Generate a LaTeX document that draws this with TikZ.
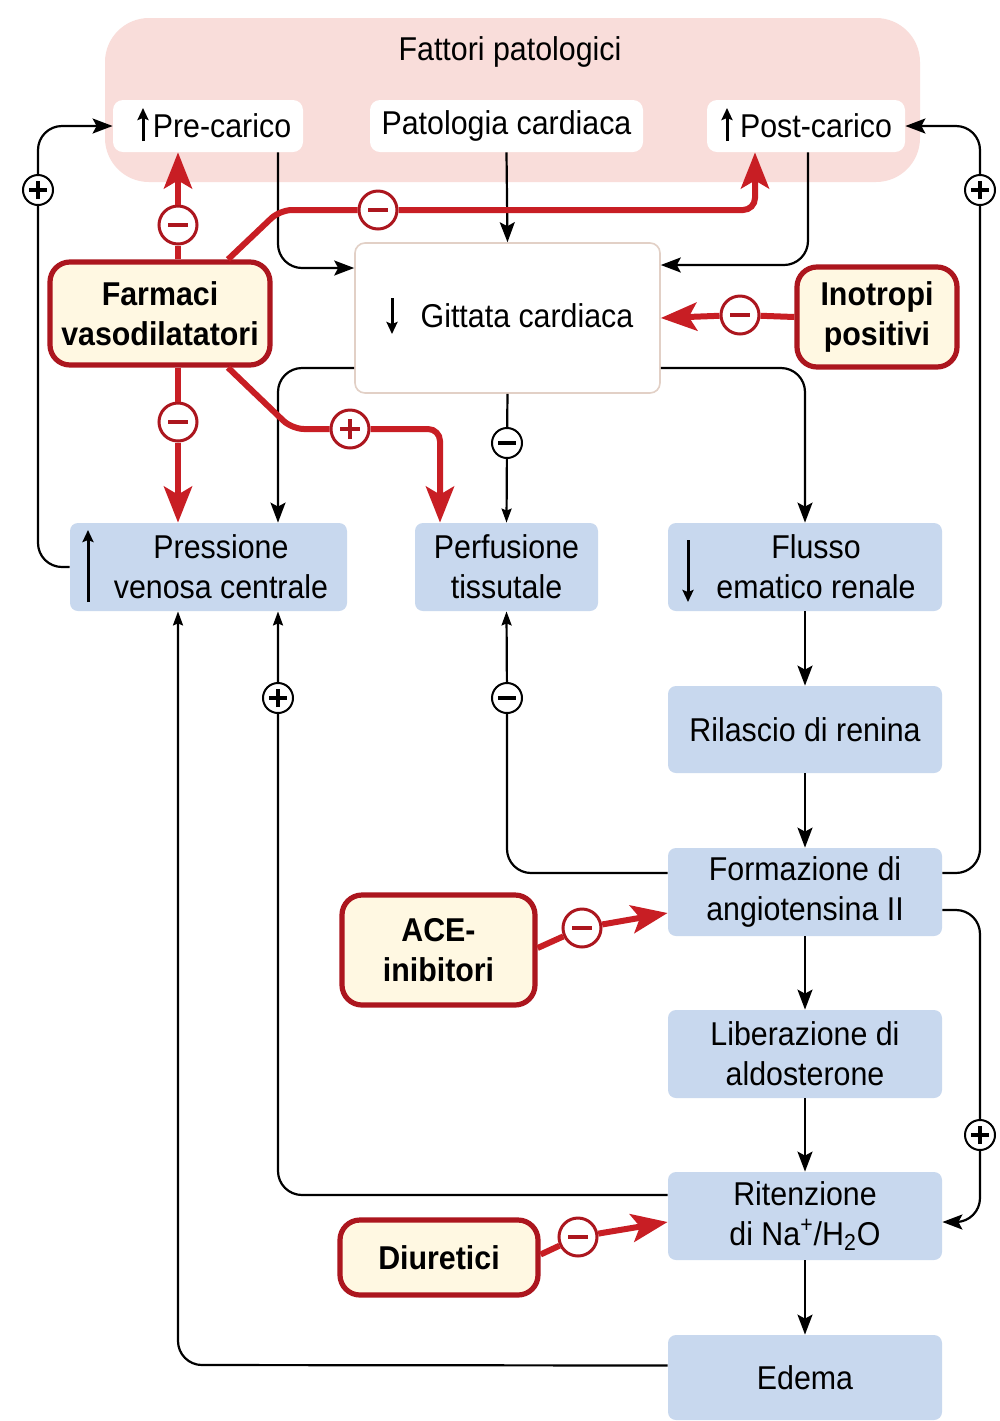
\documentclass[tikz,border=0pt]{standalone}
\usepackage{fontspec}
\setmainfont{Liberation Sans}[FakeStretch=0.92]
\usetikzlibrary{arrows.meta,calc}
\definecolor{pinkbg}{RGB}{249,221,218}
\definecolor{boxblue}{RGB}{200,216,238}
\definecolor{cream}{RGB}{255,248,226}
\definecolor{darkred}{RGB}{172,22,30}
\definecolor{arrred}{RGB}{200,30,36}
\definecolor{gitborder}{RGB}{226,208,198}
\begin{document}
\begin{tikzpicture}[x=0.5pt,y=-0.5pt,
  font=\fontsize{16.5}{20}\selectfont,
  bluebox/.style={fill=boxblue, rounded corners=4pt, inner sep=0pt},
  whitebox/.style={fill=white, rounded corners=5pt, inner sep=0pt},
  drugbox/.style={fill=cream, draw=darkred, line width=2.6pt, rounded corners=10pt, inner sep=0pt, align=center, font=\fontsize{16.5}{20}\selectfont\bfseries},
  txt/.style={align=center, inner sep=0pt},
  blk/.style={draw=black, line width=1.1pt, rounded corners=12pt, -{Stealth[length=10pt,width=7.5pt,inset=2pt]}},
  blksm/.style={draw=black, line width=1.1pt, rounded corners=12pt, -{Stealth[length=7pt,width=5pt,inset=1pt]}},
  redarr/.style={draw=arrred, line width=3pt, rounded corners=6pt, -{Stealth[length=18pt,width=14pt,inset=4pt]}},
  rsign/.style={circle, draw=darkred, line width=1.5pt, fill=white, minimum size=19pt, inner sep=0pt},
  bsign/.style={circle, draw=black, line width=1pt, fill=white, minimum size=15pt, inner sep=0pt},
  rminus/.style={rsign, path picture={\draw[darkred, line width=2.2pt] ([xshift=-5pt]path picture bounding box.center) -- ([xshift=5pt]path picture bounding box.center);}},
  rplus/.style={rsign, path picture={\draw[darkred, line width=2.2pt] ([xshift=-5pt]path picture bounding box.center) -- ([xshift=5pt]path picture bounding box.center) ([yshift=-5pt]path picture bounding box.center) -- ([yshift=5pt]path picture bounding box.center);}},
  bminus/.style={bsign, path picture={\draw[black, line width=1.6pt] ([xshift=-4.5pt]path picture bounding box.center) -- ([xshift=4.5pt]path picture bounding box.center);}},
  bplus/.style={bsign, path picture={\draw[black, line width=1.6pt] ([xshift=-4.5pt]path picture bounding box.center) -- ([xshift=4.5pt]path picture bounding box.center) ([yshift=-4.5pt]path picture bounding box.center) -- ([yshift=4.5pt]path picture bounding box.center);}},
  glyph/.style={draw=black, line width=1.5pt, -{Stealth[length=6pt,width=5.5pt,inset=1pt]}}
]
\useasboundingbox (0,0) rectangle (1000,1421);
\fill[white] (0,0) rectangle (1000,1421);

% Pink background group
\node[fill=pinkbg, rounded corners=22pt, minimum width=407.5pt, minimum height=82pt, inner sep=0pt] (fattori) at (512.5,100) {};
\node[txt] (fattoriT) at (510,52) {Fattori patologici};

% White boxes in pink
\node[whitebox, minimum width=95pt, minimum height=26pt] (prec) at (208,126) {};
\node[txt] (precT) at (222,126) {Pre-carico};
\node[whitebox, minimum width=136.5pt, minimum height=26pt] (pat) at (506.5,126) {};
\node[txt] (patT) at (506.5,126) {Patologia cardiaca};
\node[whitebox, minimum width=99pt, minimum height=26pt] (postc) at (806,126) {};
\node[txt] (postcT) at (816,126) {Post-carico};
\draw[glyph] (143,141) -- (143,108);
\draw[glyph] (727,141) -- (727,108);

% Gittata cardiaca
\node[fill=white, draw=gitborder, line width=0.8pt, rounded corners=5pt, minimum width=152.5pt, minimum height=75pt, inner sep=0pt] (gitt) at (507.5,318) {};
\node[txt] (gittT) at (527,316) {Gittata cardiaca};
\draw[glyph] (392,298) -- (392,334);

% Drug boxes
\node[drugbox, minimum width=110pt, minimum height=51.5pt] (farm) at (160,313.5) {Farmaci\\vasodilatatori};
\node[drugbox, minimum width=80pt, minimum height=50pt] (ino) at (877,317) {Inotropi\\positivi};
\node[drugbox, minimum width=96.5pt, minimum height=55pt] (ace) at (438.5,950) {ACE-\\inibitori};
\node[drugbox, minimum width=99pt, minimum height=37.5pt] (diur) at (439,1257.5) {Diuretici};

% Blue boxes
\node[bluebox, minimum width=138.5pt, minimum height=44pt] (pvc) at (208.5,567) {};
\node[txt] (pvcT) at (221,567) {Pressione\\venosa centrale};
\draw[glyph] (88,602) -- (88,530);
\node[bluebox, minimum width=91.5pt, minimum height=44pt] (perf) at (506.5,567) {};
\node[txt] (perfT) at (506.5,567) {Perfusione\\tissutale};
\node[bluebox, minimum width=137pt, minimum height=44pt] (flusso) at (805,567) {};
\node[txt] (flussoT) at (816,567) {Flusso\\ematico renale};
\draw[glyph] (688,540) -- (688,602);
\node[bluebox, minimum width=137pt, minimum height=43.5pt] (ril) at (805,729.5) {};
\node[txt] (rilT) at (805,729.5) {Rilascio di renina};
\node[bluebox, minimum width=137pt, minimum height=44pt] (form) at (805,892) {};
\node[txt] (formT) at (805,892) {Formazione di\\angiotensina II};
\node[bluebox, minimum width=137pt, minimum height=44pt] (lib) at (805,1054) {};
\node[txt] (libT) at (805,1054) {Liberazione di\\aldosterone};
\node[bluebox, minimum width=137pt, minimum height=44pt] (rit) at (805,1216) {};
\node[txt] (ritT) at (805,1216) {Ritenzione\\di Na\textsuperscript{+}/H\textsubscript{2}O};
\node[bluebox, minimum width=137pt, minimum height=42.5pt] (ede) at (805,1377.5) {};
\node[txt] (edeT) at (805,1377.5) {Edema};

% Sign nodes
\node[rminus] (s1) at (178,225) {};
\node[rminus] (s2) at (378,210) {};
\node[rminus] (s3) at (178,422) {};
\node[rplus]  (s4) at (350,429) {};
\node[rminus] (s5) at (740,315) {};
\node[rminus] (s6) at (582,928) {};
\node[rminus] (s7) at (578,1237) {};
\node[bplus]  (b1) at (38,190) {};
\node[bplus]  (b2) at (980,190) {};
\node[bminus] (b3) at (507,443) {};
\node[bplus]  (b4) at (278,698) {};
\node[bminus] (b5) at (507,698) {};
\node[bplus]  (b6) at (980,1135) {};

% Black connectors
\draw[blk] ($(prec.south)+(70,0)$) -- (278,268) -- ($(gitt.west)+(0,-50)$);
\draw[blk] (pat.south) -- (gitt.north);
\draw[blk] ($(postc.south)+(2,0)$) -- (808,265) -- ($(gitt.east)+(0,-53)$);
\draw[blk] ($(gitt.west)+(0,50)$) -- (278,368) -- (pvc.north -| b4);
\draw[blksm] (gitt.south) -- (b3) -- (perf.north);
\draw[blk] ($(gitt.east)+(0,50)$) -- (805,368) -- (flusso.north);
\draw[blk] (flusso.south) -- (ril.north);
\draw[blk] (ril.south) -- (form.north);
\draw[blk] (form.south) -- (lib.north);
\draw[blk] (lib.south) -- (rit.north);
\draw[blk] (rit.south) -- (ede.north);
\draw[blk] (pvc.west) -- (38,567) -- (b1) -- (38,126) -- (prec.west);
\draw[blk] ($(form.east)+(0,-19)$) -- (980,873) -- (b2) -- (980,126) -- (postc.east);
\draw[blk] ($(form.east)+(0,18)$) -- (980,910) -- (b6) -- (980,1222) -- ($(rit.east)+(0,6)$);
\draw[blksm] ($(form.west)+(0,-19)$) -- (507,873) -- (b5) -- (perf.south);
\draw[blksm] ($(rit.west)+(0,-21)$) -- (278,1195) -- (b4) -- (pvc.south -| b4);
\draw[blksm] ($(ede.west)+(0,-12)$) -- (178,1365) -- (pvc.south -| s3);

% Red connectors
\draw[redarr] ($(farm.north)+(18,0)$) -- (s1) -- (prec.south -| s1);
\draw[redarr] ($(farm.north)+(68,0)$) -- (280,210) -- (s2) -- (755,210) -- (postc.south -| 755,0);
\draw[redarr] ($(farm.south)+(18,0)$) -- (s3) -- (pvc.north -| s3);
\draw[redarr] ($(farm.south)+(68,0)$) -- (292,429) -- (s4) -- (440,429) -- ($(perf.north)+(-66.5,0)$);
\draw[redarr] (ino.west) -- (s5) -- (gitt.east);
\draw[redarr] ($(ace.east)+(0,-2)$) -- (s6) -- ($(form.west)+(0,21)$);
\draw[redarr] ($(diur.east)+(0,-3)$) -- (s7) -- ($(rit.west)+(0,6)$);
\end{tikzpicture}
\end{document}
